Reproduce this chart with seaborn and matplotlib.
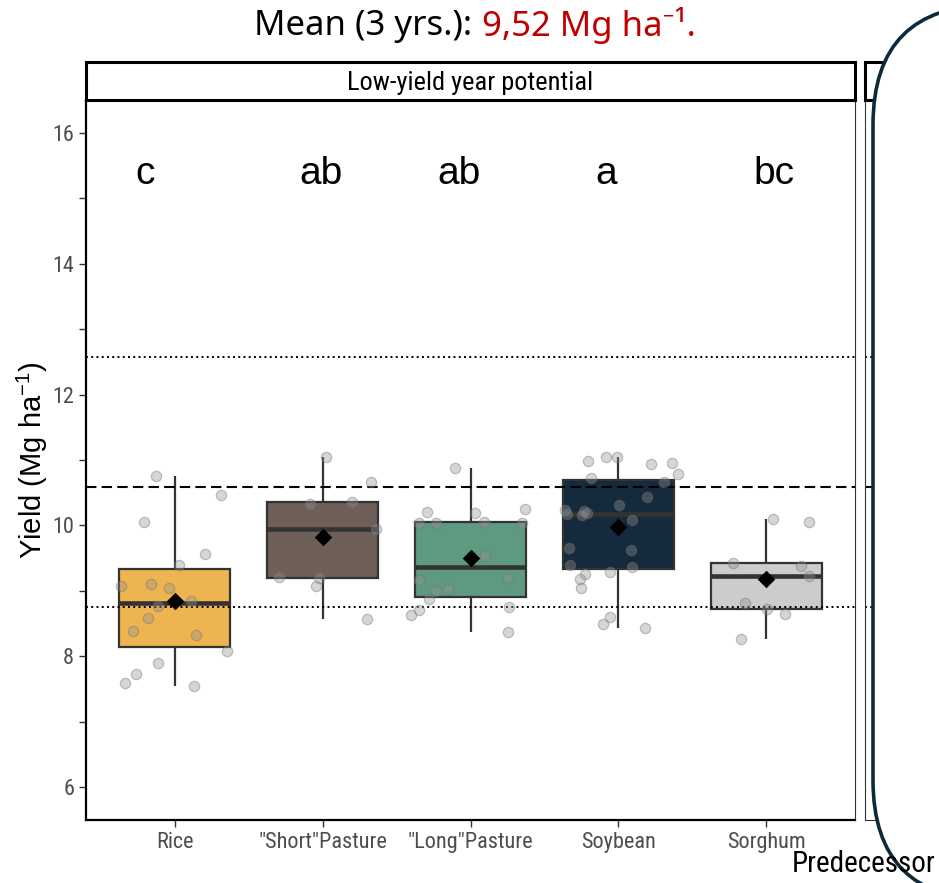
import numpy as np
import pandas as pd
import matplotlib
matplotlib.use("Agg")
import matplotlib.pyplot as plt
import seaborn as sns
from matplotlib import font_manager as fm
from matplotlib.patches import FancyBboxPatch
from matplotlib.transforms import IdentityTransform
from matplotlib.ticker import MultipleLocator

# ---------------- data ----------------
categories = ['Rice', '"Short"Pasture', '"Long"Pasture', 'Soybean', 'Sorghum']

rice_yield = [10.75, 10.06, 10.47, 9.56, 9.40, 9.07, 9.11, 9.04, 8.85, 8.77,
              8.58, 8.38, 8.32, 8.08, 7.90, 7.73, 7.60, 7.54]
rice_jit = [-0.124, -0.209, 0.316, 0.203, 0.029, -0.360, -0.162, -0.039, 0.113, -0.110,
            -0.184, -0.282, 0.142, 0.353, -0.113, -0.259, -0.333, 0.133]

short_yield = [11.05, 10.67, 10.33, 10.36, 9.95, 9.21, 9.19, 9.07, 8.57]
short_jit = [0.020, 0.326, -0.083, 0.201, 0.358, -0.297, -0.025, -0.047, 0.302]

long_yield = [10.88, 10.21, 10.19, 10.25, 10.04, 10.04, 10.05, 10.04, 9.53, 9.16,
              9.20, 9.00, 9.03, 8.87, 8.71, 8.63, 8.76, 8.37]
long_jit = [-0.108, -0.297, 0.029, 0.370, -0.349, -0.230, 0.093, 0.345, 0.101, -0.349,
            0.252, -0.236, -0.153, -0.282, -0.351, -0.399, 0.259, 0.252]

soy_yield = [10.98, 11.05, 11.05, 10.94, 10.95, 10.78, 10.73, 10.67, 10.43, 10.31,
             10.23, 10.17, 10.22, 10.19, 10.16, 10.08, 9.66, 9.62, 9.40, 9.37,
             9.29, 9.26, 9.18, 9.05, 8.60, 8.49, 8.44]
soy_jit = [-0.203, -0.083, -0.007, 0.218, 0.360, 0.401, -0.184, 0.306, 0.191, 0.005,
           -0.360, -0.347, -0.230, -0.214, -0.243, 0.090, -0.336, 0.086, -0.329, 0.095,
           -0.054, -0.228, -0.257, -0.252, -0.054, -0.106, 0.180]

sorghum_yield = [10.10, 10.05, 9.43, 9.38, 9.23, 8.81, 8.73, 8.64, 8.27]
sorghum_jit = [0.046, 0.287, -0.226, 0.235, 0.292, -0.147, 0.005, 0.125, -0.174]

letters = ['c', 'ab', 'ab', 'a', 'bc']
letter_offset = [-0.20, -0.01, -0.08, -0.08, 0.05]
letter_y = 15.37

ref_dashed = [10.58]
ref_dotted = [12.58, 8.76]

colors = ['#EDB44F', '#6E5F59', '#5E9A80', '#152A3C', '#CCCCCC']

title_black = 'Mean (3 yrs.): '
title_red = '9,52 Mg ha\u207b\u00b9.'
strip_label = 'Low-yield year potential'
y_label = 'Yield (Mg ha$^{-1}$)'
x_label = 'Predecessor'

# ---------------- fonts ----------------
avail = {f.name for f in fm.fontManager.ttflist}
def pick(cands):
    for c in cands:
        if c in avail:
            return c
    return 'DejaVu Sans'
narrow = pick(['Liberation Sans Narrow', 'Roboto Condensed', 'DejaVu Sans'])
arial = pick(['Liberation Sans', 'Arimo', 'DejaVu Sans'])
titlef = pick(['Noto Sans', 'Open Sans', 'DejaVu Sans'])
plt.rcParams['mathtext.default'] = 'regular'

# ---------------- dataframe ----------------
groups = [rice_yield, short_yield, long_yield, soy_yield, sorghum_yield]
jits = [rice_jit, short_jit, long_jit, soy_jit, sorghum_jit]
rows = []
for i, (cat, ys, js) in enumerate(zip(categories, groups, jits)):
    for y, j in zip(ys, js):
        rows.append({'Predecessor': cat, 'Yield': y, 'xpos': i + j})
df = pd.DataFrame(rows)

# ---------------- figure ----------------
W, H = 939, 883
fig = plt.figure(figsize=(W / 100, H / 100), dpi=100)

def fx(px):
    return px / W
def fy(py):
    return 1 - py / H

ax = fig.add_axes([fx(86), fy(820), fx(855) - fx(86), fy(100) - fy(820)])
ax2 = fig.add_axes([fx(865), fy(820), 0.3, fy(100) - fy(820)])

sns.boxplot(data=df, x='Predecessor', y='Yield', hue='Predecessor', order=categories,
            hue_order=categories, palette=colors, width=0.75, dodge=False, legend=False,
            showfliers=False, showcaps=False, saturation=1, linewidth=1.6,
            linecolor='#333333', medianprops={'linewidth': 3.3, 'color': '#333333'},
            ax=ax, zorder=2)

for v in ref_dashed:
    for a in (ax, ax2):
        a.axhline(v, color='black', lw=1.5, ls=(0, (5, 2.5)), zorder=2.5)
for v in ref_dotted:
    for a in (ax, ax2):
        a.axhline(v, color='black', lw=1.4, ls=(0, (1, 1.7)), zorder=2.5)

ax.scatter(df['xpos'], df['Yield'], s=55, facecolor=(0.58, 0.58, 0.58, 0.38),
           edgecolor=(0.45, 0.45, 0.45, 0.42), linewidth=0.9, zorder=3)

means = df.groupby('Predecessor', sort=False)['Yield'].mean().reindex(categories)
ax.scatter(range(len(categories)), means.values, marker='D', s=80, color='black', zorder=4,
           linewidth=0)

for i, (lab, off) in enumerate(zip(letters, letter_offset)):
    ax.text(i + off, letter_y, lab, ha='center', va='center', fontsize=28,
            family=arial, color='black')

ax.set_xlim(-0.6, 4.6)
ax.set_ylim(5.5, 16.5)
ax.set_yticks([6, 8, 10, 12, 14, 16])
ax.yaxis.set_minor_locator(MultipleLocator(1))
ax.set_xlabel('')
ax.set_ylabel(y_label, fontsize=21, family=arial, color='black')
ax.yaxis.set_label_coords(-0.047, 0.5)
ax.tick_params(axis='both', which='both', colors='#333333', labelcolor='#4D4D4D',
               length=5, width=1)
for lab in ax.get_xticklabels() + ax.get_yticklabels():
    lab.set_family(narrow)
    lab.set_fontsize(16)
ax.set_facecolor('white')
for s in ['left', 'bottom']:
    ax.spines[s].set_color('black')
    ax.spines[s].set_linewidth(1.6)
for s in ['top', 'right']:
    ax.spines[s].set_color('#333333')
    ax.spines[s].set_linewidth(0.8)

ax2.set_xlim(0, 1)
ax2.set_ylim(5.5, 16.5)
ax2.set_xticks([])
ax2.set_yticks([])
for s in ax2.spines.values():
    s.set_color('#333333')
    s.set_linewidth(0.8)

# strips
for k, (left, width) in enumerate([(fx(86), fx(855) - fx(86)), (fx(865), 0.3)]):
    sa = fig.add_axes([left, fy(100), width, fy(62) - fy(100)])
    sa.set_xticks([]); sa.set_yticks([])
    sa.set_facecolor('white')
    for s in sa.spines.values():
        s.set_color('black'); s.set_linewidth(2.2)
    if k == 0:
        sa.text(0.5, 0.45, strip_label, ha='center', va='center', fontsize=19,
                family=narrow, color='black', transform=sa.transAxes)

# rounded overlay
rect = FancyBboxPatch((873, H - 900), 700, 895,
                      boxstyle='round,pad=0,rounding_size=120',
                      transform=IdentityTransform(), facecolor='white',
                      edgecolor='#0E2A3A', linewidth=2.6, zorder=10)
fig.patches.append(rect)

# x label (drawn above the overlay)
fig.text(fx(935), fy(864), x_label, ha='right', va='center', fontsize=21,
         family=narrow, color='black', zorder=12)

# title in two colors
t1 = fig.text(0, fy(26), title_black, ha='left', va='center', fontsize=25,
              family=[titlef, 'DejaVu Sans'], color='black', zorder=12)
t2 = fig.text(0, fy(26), title_red, ha='left', va='center', fontsize=25,
              family=[titlef, 'DejaVu Sans'], color='#C00000', zorder=12)
fig.canvas.draw()
r = fig.canvas.get_renderer()
w1 = t1.get_window_extent(r).width / W
w2 = t2.get_window_extent(r).width / W
x0 = fx(475) - (w1 + w2) / 2
t1.set_x(x0)
t2.set_x(x0 + w1)

fig.savefig('out.png', dpi=100, facecolor='white')
